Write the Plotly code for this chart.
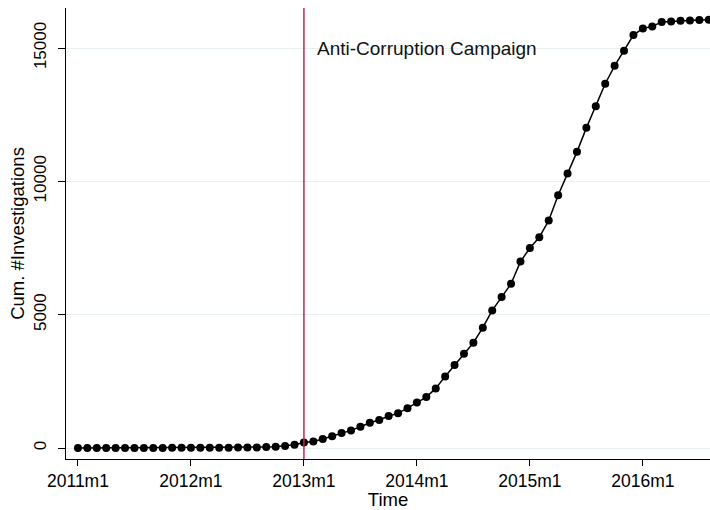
import plotly.graph_objects as go

# Monthly periods, 2011m1 .. 2016m8
years = [2011, 2012, 2013, 2014, 2015, 2016]
months = [f"{y}m{m}" for y in years for m in range(1, 13)][:68]

# Cumulative number of investigations per month
cum_investigations = [
    0, 1, 1, 2, 2, 3, 3, 4, 5, 5, 6, 7,
    8, 9, 10, 12, 14, 16, 19, 22, 37, 49, 75, 124,
    210, 248, 338, 440, 563, 660, 800, 949, 1050, 1200, 1300, 1490,
    1705, 1910, 2235, 2685, 3112, 3536, 3949, 4511, 5160, 5660, 6161, 6990,
    7500, 7905, 8530, 9480, 10290, 11105, 12005, 12818, 13661, 14330, 14893, 15485,
    15735, 15810, 15975, 15998, 16024, 16035, 16046, 16058,
]

x_ticks = ["2011m1", "2012m1", "2013m1", "2014m1", "2015m1", "2016m1"]
y_ticks = [0, 5000, 10000, 15000]
y_tick_text = ["0", "5000", "10000", "15000"]
campaign_start = "2013m1"
campaign_label = "Anti-Corruption Campaign"

FONT = "Liberation Sans, Arial, sans-serif"

fig = go.Figure()
fig.add_trace(go.Scatter(
    x=months, y=cum_investigations,
    mode="lines+markers",
    line=dict(color="black", width=1.5),
    marker=dict(color="black", size=8),
    showlegend=False,
))

# Vertical marker for the start of the campaign
fig.add_shape(
    type="line", xref="x", yref="paper",
    x0=campaign_start, x1=campaign_start, y0=0, y1=1,
    line=dict(color="#c9254f", width=1.5),
)
fig.add_annotation(
    x=campaign_start, y=15000, xref="x", yref="y",
    text=campaign_label, showarrow=False,
    xanchor="left", yanchor="middle", xshift=11,
    font=dict(family=FONT, size=19, color="#111111"),
)

fig.update_layout(
    width=710, height=510,
    margin=dict(l=66, r=0, t=8, b=51),
    paper_bgcolor="white", plot_bgcolor="white",
    font=dict(family=FONT, size=16, color="black"),
    xaxis=dict(
        type="category",
        range=[-1.27, 67.13],
        tickmode="array", tickvals=x_ticks, ticktext=x_ticks,
        ticks="outside", ticklen=6, tickwidth=1, tickcolor="black",
        showline=True, linecolor="black", linewidth=1.2,
        showgrid=False, zeroline=False,
        title=dict(text="Time", standoff=0, font=dict(size=18.5)),
        tickfont=dict(size=17.5),
    ),
    yaxis=dict(
        range=[-412, 16500],
        tickmode="array", tickvals=y_ticks, ticktext=y_tick_text,
        tickangle=-90, ticklabelstandoff=5,
        ticks="outside", ticklen=7, tickwidth=1, tickcolor="black",
        showline=True, linecolor="black", linewidth=1.2,
        showgrid=True, gridcolor="#e8f0f2", gridwidth=1,
        zeroline=False,
        title=dict(text="Cum. #Investigations", standoff=1, font=dict(size=18.5)),
        tickfont=dict(size=17),
    ),
)

fig.write_html("out.html")
